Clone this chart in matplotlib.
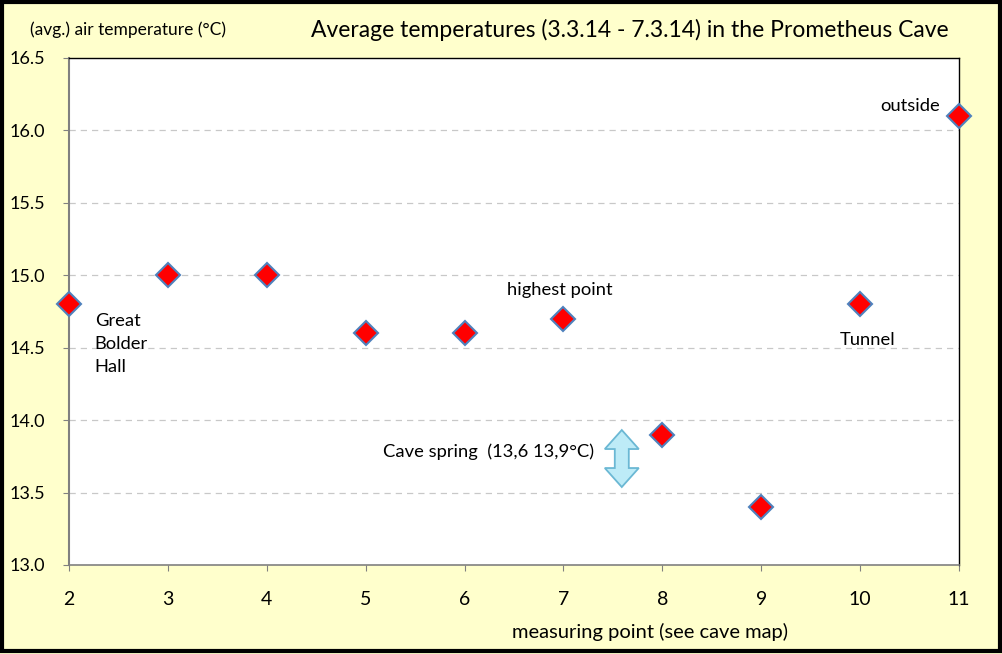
import matplotlib
matplotlib.use("Agg")
import matplotlib.pyplot as plt
import numpy as np
from matplotlib.patches import Rectangle, Polygon
from matplotlib.transforms import Affine2D

plt.rcParams['font.family'] = ['Lato', 'DejaVu Sans']

points = [2, 3, 4, 5, 6, 7, 8, 9, 10, 11]
temps = [14.8, 15.0, 15.0, 14.6, 14.6, 14.7, 13.9, 13.4, 14.8, 16.1]
yticks = [13.0, 13.5, 14.0, 14.5, 15.0, 15.5, 16.0, 16.5]
xticks = [2, 3, 4, 5, 6, 7, 8, 9, 10, 11]

bg = '#FFFFCC'
fig = plt.figure(figsize=(10.02, 6.54), dpi=100, facecolor=bg)
ax = fig.add_axes([69/1002, 1-565/654, (959-69)/1002, (565-58)/654])
ax.set_facecolor('white')

ax.set_xlim(2, 11)
ax.set_ylim(13.0, 16.5)
ax.set_yticks(yticks)
ax.set_yticklabels([f"{v:.1f}" for v in yticks])
ax.set_xticks(xticks)
ax.set_xticklabels([str(v) for v in xticks])

for v in yticks[1:-1]:
    ax.axhline(v, color='#C8C8C8', lw=0.9, ls=(0, (5, 4)), zorder=1)

ax.spines['left'].set_color('#808080')
ax.spines['bottom'].set_color('#808080')
ax.spines['left'].set_linewidth(1.5)
ax.spines['bottom'].set_linewidth(1.2)
ax.spines['top'].set_color('black')
ax.spines['right'].set_color('black')
ax.spines['top'].set_linewidth(1.0)
ax.spines['right'].set_linewidth(1.0)

ax.tick_params(axis='y', length=4, color='#808080', labelsize=13, pad=13, direction='out')
ax.tick_params(axis='x', length=4.5, color='#808080', labelsize=14, pad=14.5, direction='out')

ax.plot(points, temps, ls='none', marker='D', ms=12.5, mfc='#FF0000', mec='#4F81BD',
        mew=1.5, zorder=5, clip_on=False)

fs = 13.2
ax.text(10.81, 16.17, 'outside', ha='right', va='center', fontsize=fs)
ax.text(10.08, 14.55, 'Tunnel', ha='center', va='center', fontsize=fs)
ax.text(6.96, 14.9, 'highest point', ha='center', va='center', fontsize=fs)
ax.text(2.26, 14.74, 'Great\nBolder\nHall', ha='left', va='top', fontsize=fs, linespacing=1.55)
ax.text(5.18, 13.78, 'Cave spring  (13,6 13,9°C)', ha='left', va='center', fontsize=fs)

# double-headed block arrow (pixel-shaped) centred on the spring range
cx, cy = 7.59, 13.735
hw, sw, hh, th = 17, 7, 19, 28.5
shape = np.array([[0, th], [hw, th - hh], [sw, th - hh], [sw, -(th - hh)], [hw, -(th - hh)],
                  [0, -th], [-hw, -(th - hh)], [-sw, -(th - hh)], [-sw, th - hh], [-hw, th - hh]])
px, py = ax.transData.transform((cx, cy))
arrow = Polygon(shape, closed=True, fc='#BDEBF7', ec='#6BB8D4', lw=1.3, zorder=4)
arrow.set_transform(Affine2D().translate(px, py))
fig.patches.append(arrow)

fig.text(30/1002, 1-30/654, '(avg.) air temperature (°C)', ha='left', va='center', fontsize=12.5)
fig.text(630/1002, 1-30/654, 'Average temperatures (3.3.14 - 7.3.14) in the Prometheus Cave',
         ha='center', va='center', fontsize=16.5)
fig.text(650/1002, 1-632/654, 'measuring point (see cave map)', ha='center', va='center', fontsize=14.5)

fig.patches.append(Rectangle((0.002, 0.004), 0.996, 0.993, transform=fig.transFigure,
                             fill=False, ec='black', lw=3))

fig.savefig('out.png', dpi=100, facecolor=bg)
